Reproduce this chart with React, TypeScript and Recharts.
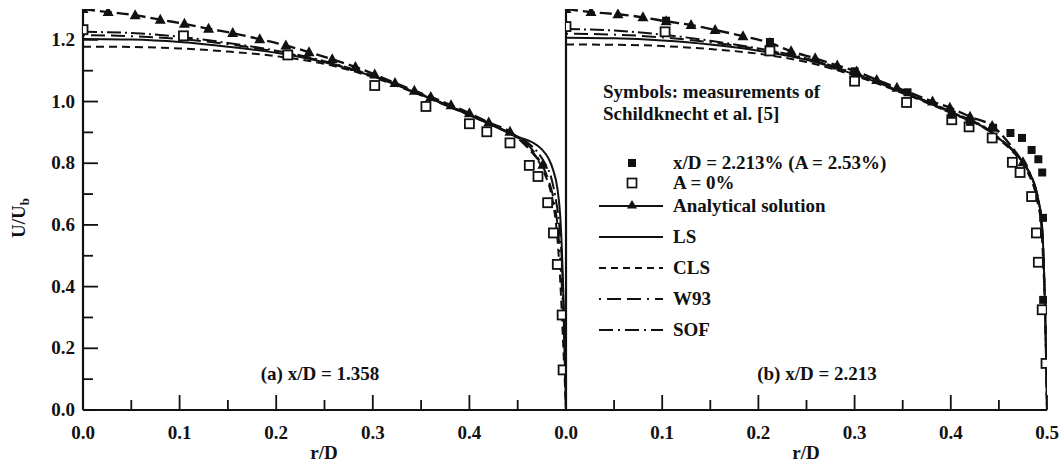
import React from 'react';
import { ComposedChart, Line, Scatter, XAxis, YAxis } from 'recharts';

// ---------- axis ticks ----------
const xTicksA = [0, 0.05, 0.1, 0.15, 0.2, 0.25, 0.3, 0.35, 0.4, 0.45];
const xTicksB = [0, 0.05, 0.1, 0.15, 0.2, 0.25, 0.3, 0.35, 0.4, 0.45, 0.5];
const yTicks = [0, 0.1, 0.2, 0.3, 0.4, 0.5, 0.6, 0.7, 0.8, 0.9, 1.0, 1.1, 1.2];

// ---------- panel (a): x/D = 1.358 ----------
const analyticA_r = [0, 0.026, 0.054, 0.08, 0.105, 0.13, 0.155, 0.183, 0.21, 0.234, 0.258, 0.282, 0.302, 0.323, 0.343, 0.36, 0.381, 0.4, 0.42, 0.442, 0.476];
const analyticA_u = [1.3, 1.29, 1.28, 1.265, 1.252, 1.236, 1.222, 1.202, 1.182, 1.16, 1.137, 1.112, 1.088, 1.06, 1.035, 1.015, 0.988, 0.962, 0.932, 0.902, 0.795];

const openA_r = [0, 0.104, 0.212, 0.302, 0.355, 0.4, 0.418, 0.442, 0.462, 0.471, 0.481, 0.487, 0.491, 0.496, 0.497];
const openA_u = [1.233, 1.213, 1.151, 1.052, 0.984, 0.928, 0.902, 0.866, 0.793, 0.757, 0.672, 0.574, 0.472, 0.308, 0.13];

const lsA_r = [0, 0.05, 0.1, 0.15, 0.2, 0.25, 0.3, 0.35, 0.4, 0.44, 0.452, 0.465, 0.475, 0.482, 0.487, 0.491, 0.494, 0.496, 0.498, 0.5];
const lsA_u = [1.203, 1.201, 1.193, 1.178, 1.158, 1.127, 1.082, 1.022, 0.956, 0.9, 0.884, 0.868, 0.845, 0.815, 0.775, 0.72, 0.63, 0.5, 0.3, 0];
const clsA_r = [0, 0.05, 0.1, 0.15, 0.2, 0.25, 0.3, 0.35, 0.4, 0.44, 0.452, 0.462, 0.471, 0.478, 0.484, 0.488, 0.491, 0.494, 0.497, 0.5];
const clsA_u = [1.178, 1.177, 1.172, 1.162, 1.147, 1.122, 1.079, 1.02, 0.955, 0.899, 0.878, 0.85, 0.81, 0.765, 0.71, 0.645, 0.56, 0.42, 0.22, 0];
const w93A_r = [0, 0.05, 0.1, 0.15, 0.2, 0.25, 0.3, 0.35, 0.4, 0.44, 0.452, 0.462, 0.47, 0.477, 0.483, 0.488, 0.492, 0.495, 0.498, 0.5];
const w93A_u = [1.215, 1.212, 1.203, 1.186, 1.162, 1.129, 1.083, 1.023, 0.957, 0.9, 0.88, 0.855, 0.822, 0.783, 0.735, 0.67, 0.575, 0.44, 0.24, 0];
const sofA_r = [0, 0.05, 0.1, 0.15, 0.2, 0.25, 0.3, 0.35, 0.4, 0.44, 0.452, 0.463, 0.472, 0.479, 0.485, 0.489, 0.493, 0.496, 0.498, 0.5];
const sofA_u = [1.226, 1.222, 1.21, 1.19, 1.165, 1.131, 1.084, 1.024, 0.958, 0.901, 0.882, 0.86, 0.83, 0.795, 0.75, 0.69, 0.6, 0.46, 0.26, 0];

// ---------- panel (b): x/D = 2.213 ----------
const analyticB_r = [0, 0.026, 0.054, 0.08, 0.104, 0.13, 0.155, 0.184, 0.212, 0.234, 0.259, 0.282, 0.302, 0.323, 0.344, 0.381, 0.399, 0.42, 0.443, 0.475];
const analyticB_u = [1.3, 1.29, 1.283, 1.273, 1.26, 1.248, 1.232, 1.212, 1.19, 1.163, 1.14, 1.117, 1.097, 1.07, 1.045, 1.0, 0.98, 0.951, 0.921, 0.803];

const filledB_r = [0, 0.104, 0.212, 0.3, 0.355, 0.401, 0.42, 0.444, 0.462, 0.474, 0.484, 0.491, 0.495, 0.496, 0.496];
const filledB_u = [1.3, 1.262, 1.193, 1.098, 1.03, 0.957, 0.934, 0.915, 0.898, 0.882, 0.843, 0.813, 0.77, 0.623, 0.357];

const openB_r = [0, 0.103, 0.212, 0.3, 0.354, 0.401, 0.419, 0.443, 0.464, 0.472, 0.484, 0.489, 0.491, 0.495, 0.499];
const openB_u = [1.243, 1.226, 1.164, 1.066, 0.997, 0.941, 0.918, 0.882, 0.803, 0.77, 0.692, 0.574, 0.479, 0.325, 0.151];

const lsB_r = [0, 0.05, 0.1, 0.15, 0.2, 0.25, 0.3, 0.35, 0.4, 0.44, 0.45, 0.46, 0.47, 0.478, 0.484, 0.489, 0.492, 0.4945, 0.4965, 0.498, 0.5];
const lsB_u = [1.207, 1.205, 1.198, 1.185, 1.165, 1.135, 1.088, 1.03, 0.965, 0.905, 0.88, 0.855, 0.822, 0.79, 0.755, 0.71, 0.665, 0.61, 0.49, 0.33, 0];
const clsB_r = [0, 0.05, 0.1, 0.15, 0.2, 0.25, 0.3, 0.35, 0.4, 0.44, 0.45, 0.46, 0.47, 0.477, 0.483, 0.488, 0.491, 0.494, 0.496, 0.498, 0.5];
const clsB_u = [1.185, 1.184, 1.18, 1.17, 1.155, 1.128, 1.084, 1.027, 0.963, 0.903, 0.877, 0.851, 0.818, 0.786, 0.75, 0.705, 0.66, 0.6, 0.48, 0.32, 0];
const w93B_r = [0, 0.05, 0.1, 0.15, 0.2, 0.25, 0.3, 0.35, 0.4, 0.44, 0.45, 0.46, 0.47, 0.478, 0.484, 0.489, 0.492, 0.4945, 0.4965, 0.498, 0.5];
const w93B_u = [1.22, 1.217, 1.208, 1.192, 1.17, 1.138, 1.09, 1.031, 0.966, 0.906, 0.88, 0.855, 0.821, 0.789, 0.754, 0.709, 0.664, 0.608, 0.49, 0.33, 0];
const sofB_r = [0, 0.05, 0.1, 0.15, 0.2, 0.25, 0.3, 0.35, 0.4, 0.44, 0.45, 0.46, 0.47, 0.478, 0.484, 0.489, 0.492, 0.4945, 0.4965, 0.498, 0.5];
const sofB_u = [1.235, 1.23, 1.217, 1.197, 1.172, 1.14, 1.092, 1.033, 0.967, 0.907, 0.882, 0.857, 0.823, 0.791, 0.756, 0.711, 0.666, 0.612, 0.492, 0.332, 0];

// ---------- legend text ----------
const legendTitle = ['Symbols: measurements of', 'Schildknecht et al. [5]'];
const legendLabels = ['x/D = 2.213% (A = 2.53%)', 'A = 0%', 'Analytical solution', 'LS', 'CLS', 'W93', 'SOF'];
const panelCaptions = ['(a) x/D = 1.358', '(b) x/D = 2.213'];

type Pt = { r: number; u: number };
const zip = (r: number[], u: number[]): Pt[] => r.map((v, i) => ({ r: v, u: u[i] }));

const FONT = '"Liberation Serif", "Times New Roman", serif';
const INK = '#111';

const DASH = {
  ls: undefined as string | undefined,
  cls: '8 5',
  w93: '2 6 14 6 14 6',
  sof: '14 4 2 4',
  analytic: '12 5',
};

const isMajor = (v: number) => Math.abs(v * 10 - Math.round(v * 10)) < 1e-6;

const XTick = (props: any) => {
  const { x, y, payload } = props;
  const major = isMajor(payload.value);
  return (
    <g>
      <line x1={x} y1={y} x2={x} y2={y - (major ? 15 : 10)} stroke={INK} strokeWidth={1.8} />
      {major && (
        <text x={x} y={y + 29} textAnchor="middle" fontFamily={FONT} fontWeight="bold" fontSize={19} fill={INK}>
          {payload.value.toFixed(1)}
        </text>
      )}
    </g>
  );
};

const YTick = (props: any) => {
  const { x, y, payload } = props;
  const major = isMajor(payload.value * 0.5);
  return (
    <g>
      <line x1={x} y1={y} x2={x + (major ? 15 : 10)} y2={y} stroke={INK} strokeWidth={1.8} />
      {major && (
        <text x={x - 8} y={y + 6} textAnchor="end" fontFamily={FONT} fontWeight="bold" fontSize={19} fill={INK}>
          {payload.value.toFixed(1)}
        </text>
      )}
    </g>
  );
};

const Triangle = (p: any) => (
  <path d={`M${p.cx},${p.cy - 6} L${p.cx + 5.5},${p.cy + 4} L${p.cx - 5.5},${p.cy + 4} Z`} fill={INK} />
);
const OpenSquare = (p: any) => (
  <rect x={p.cx - 4.5} y={p.cy - 4.5} width={9} height={9} fill="#fff" stroke={INK} strokeWidth={1.8} />
);
const FilledSquare = (p: any) => <rect x={p.cx - 4} y={p.cy - 4} width={8} height={8} fill={INK} />;

const modelLine = (key: string, data: Pt[], dash?: string) => (
  <Line
    key={key}
    data={data}
    dataKey="u"
    type="monotone"
    stroke={INK}
    strokeWidth={2}
    strokeDasharray={dash}
    dot={false}
    activeDot={false}
    isAnimationActive={false}
  />
);

const H = 465;
const MARGIN_TOP = 9;
const MARGIN_BOTTOM = 25;
const X_AXIS_H = 30;

const PanelA = () => (
  <ComposedChart width={600} height={H} margin={{ top: MARGIN_TOP, right: 34, bottom: MARGIN_BOTTOM, left: 0 }}>
    <XAxis
      type="number"
      dataKey="r"
      domain={[0, 0.5]}
      ticks={xTicksA}
      interval={0}
      height={X_AXIS_H}
      tickLine={false}
      tickSize={0}
      tickMargin={0}
      axisLine={{ stroke: INK, strokeWidth: 2.2 }}
      tick={(p: any) => <XTick {...p} />}
      allowDataOverflow
    />
    <YAxis
      type="number"
      dataKey="u"
      domain={[0, 1.3]}
      ticks={yTicks}
      interval={0}
      width={83}
      tickLine={false}
      tickSize={0}
      tickMargin={0}
      axisLine={{ stroke: INK, strokeWidth: 2.2 }}
      tick={(p: any) => <YTick {...p} />}
      allowDataOverflow
    />
    {modelLine('cls', zip(clsA_r, clsA_u), DASH.cls)}
    {modelLine('w93', zip(w93A_r, w93A_u), DASH.w93)}
    {modelLine('sof', zip(sofA_r, sofA_u), DASH.sof)}
    {modelLine('ls', zip(lsA_r, lsA_u), DASH.ls)}
    <Line
      data={zip(analyticA_r, analyticA_u)}
      dataKey="u"
      type="monotone"
      stroke={INK}
      strokeWidth={2.4}
      strokeDasharray={DASH.analytic}
      dot={false}
      activeDot={false}
      isAnimationActive={false}
    />
    <Scatter data={zip(analyticA_r, analyticA_u)} dataKey="u" shape={Triangle} isAnimationActive={false} />
    <Scatter data={zip(openA_r, openA_u)} dataKey="u" shape={OpenSquare} isAnimationActive={false} />
  </ComposedChart>
);

const PanelB = () => (
  <ComposedChart width={1063} height={H} margin={{ top: MARGIN_TOP, right: 16, bottom: MARGIN_BOTTOM, left: 565 }}>
    <XAxis
      type="number"
      dataKey="r"
      domain={[0, 0.5]}
      ticks={xTicksB}
      interval={0}
      height={X_AXIS_H}
      tickLine={false}
      tickSize={0}
      tickMargin={0}
      axisLine={{ stroke: INK, strokeWidth: 2.2 }}
      tick={(p: any) => <XTick {...p} />}
      allowDataOverflow
    />
    <YAxis
      type="number"
      dataKey="u"
      domain={[0, 1.3]}
      ticks={yTicks}
      width={1}
      tickLine={false}
      tick={false}
      axisLine={{ stroke: INK, strokeWidth: 2.2 }}
      allowDataOverflow
    />
    {modelLine('cls', zip(clsB_r, clsB_u), DASH.cls)}
    {modelLine('w93', zip(w93B_r, w93B_u), DASH.w93)}
    {modelLine('sof', zip(sofB_r, sofB_u), DASH.sof)}
    {modelLine('ls', zip(lsB_r, lsB_u), DASH.ls)}
    <Line
      data={zip(analyticB_r, analyticB_u)}
      dataKey="u"
      type="monotone"
      stroke={INK}
      strokeWidth={2.4}
      strokeDasharray={DASH.analytic}
      dot={false}
      activeDot={false}
      isAnimationActive={false}
    />
    <Scatter data={zip(analyticB_r, analyticB_u)} dataKey="u" shape={Triangle} isAnimationActive={false} />
    <Scatter data={zip(openB_r, openB_u)} dataKey="u" shape={OpenSquare} isAnimationActive={false} />
    <Scatter data={zip(filledB_r, filledB_u)} dataKey="u" shape={FilledSquare} isAnimationActive={false} />
  </ComposedChart>
);

// Legend sample glyphs (marker and/or line style)
const Sample = ({ kind }: { kind: number }) => {
  const dashes = [undefined, undefined, undefined, DASH.ls, '7 5', '2 6 14 6 14 6', '14 5 2 5'];
  return (
    <svg width={68} height={20} style={{ display: 'block' }}>
      {kind >= 2 && (
        <line x1={2} y1={10} x2={66} y2={10} stroke={INK} strokeWidth={2} strokeDasharray={dashes[kind]} />
      )}
      {kind === 0 && <rect x={31} y={6} width={8} height={8} fill={INK} />}
      {kind === 1 && <rect x={30.5} y={5.5} width={9} height={9} fill="#fff" stroke={INK} strokeWidth={1.7} />}
      {kind === 2 && <path d="M35,4 L40,12.5 L30,12.5 Z" fill={INK} />}
    </svg>
  );
};

const legendRowY = [163, 183, 206, 237, 268, 299, 330];

const textStyle: React.CSSProperties = {
  position: 'absolute',
  fontFamily: FONT,
  fontWeight: 'bold',
  fontSize: 19,
  color: INK,
  whiteSpace: 'nowrap',
  lineHeight: '20px',
};

export default function App() {
  return (
    <div style={{ position: 'absolute', left: 0, top: 0, width: 1063, height: H, background: '#fff', overflow: 'hidden' }}>
      <div style={{ position: 'absolute', left: 0, top: 0 }}>
        <PanelA />
      </div>
      <div style={{ position: 'absolute', left: 0, top: 0 }}>
        <PanelB />
      </div>

      {/* axis titles */}
      <div
        style={{
          ...textStyle,
          left: 22,
          top: 218,
          transform: 'translate(-50%, -50%) rotate(-90deg)',
        }}
      >
        U/U<sub style={{ fontSize: 13 }}>b</sub>
      </div>
      <div style={{ ...textStyle, left: 324, top: 443, transform: 'translateX(-50%)' }}>r/D</div>
      <div style={{ ...textStyle, left: 806, top: 443, transform: 'translateX(-50%)' }}>r/D</div>

      {/* panel captions */}
      <div style={{ ...textStyle, left: 320, top: 364, transform: 'translateX(-50%)' }}>{panelCaptions[0]}</div>
      <div style={{ ...textStyle, left: 817, top: 364, transform: 'translateX(-50%)' }}>{panelCaptions[1]}</div>

      {/* legend */}
      <div style={{ ...textStyle, left: 603, top: 82 }}>{legendTitle[0]}</div>
      <div style={{ ...textStyle, left: 603, top: 104 }}>{legendTitle[1]}</div>
      {legendLabels.map((label, i) => (
        <div key={label} style={{ ...textStyle, left: 597, top: legendRowY[i] - 10, display: 'flex', alignItems: 'center' }}>
          <Sample kind={i} />
          <span style={{ marginLeft: 8 }}>{label}</span>
        </div>
      ))}
    </div>
  );
}
